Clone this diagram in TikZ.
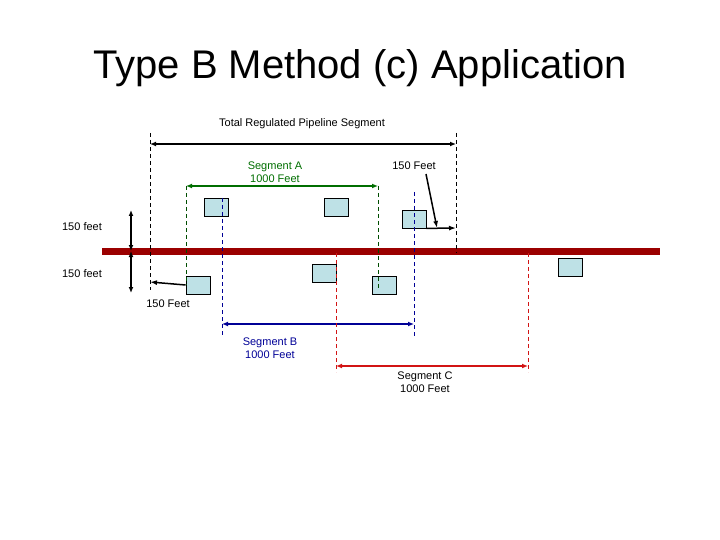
\documentclass[tikz,border=0pt]{standalone}
\usepackage{fontspec}
\setmainfont{Liberation Sans}
\usetikzlibrary{arrows.meta}
\definecolor{pipe}{RGB}{155,0,0}
\definecolor{boxf}{RGB}{190,225,230}
\definecolor{grn}{RGB}{0,110,0}
\definecolor{blu}{RGB}{0,0,150}
\definecolor{rd}{RGB}{210,20,20}
\begin{document}
\begin{tikzpicture}[x=1pt,y=-1pt,
 bx/.style={draw=black,fill=boxf,minimum width=24pt,minimum height=18pt,inner sep=0pt,line width=0.8pt},
 lbl/.style={font=\fontsize{11}{13}\selectfont,align=center,inner sep=0pt},
 dsh/.style={dashed,line width=0.6pt,dash pattern=on 4pt off 3pt},
 dim/.style={line width=1.3pt,{Latex[length=6pt,width=5pt]}-{Latex[length=6pt,width=5pt]}},
 sarr/.style={line width=1.5pt,-{Latex[length=7pt,width=5pt]}}]
\useasboundingbox (0,0) rectangle (720,540);
\node[font=\fontsize{40}{44}\selectfont] (title) at (360,68) {Type B Method (c) Application};
% pipeline
\draw[pipe,line width=7pt] (102,251.5) -- (660,251.5);
% boxes
\node[bx] (b1) at (216,207) {};
\node[bx] (b2) at (336,207) {};
\node[bx] (b3) at (414,219) {};
\node[bx] (b4) at (198,285) {};
\node[bx] (b5) at (324,273) {};
\node[bx] (b6) at (384,285) {};
\node[bx] (b7) at (570,267) {};
% total
\coordinate (t1) at (150,133); \coordinate (t1b) at (150,290);
\coordinate (t2) at (456,133); \coordinate (t2b) at (456,253);
\draw[dsh] (t1) -- (t1b);
\draw[dsh] (t2) -- (t2b);
\draw[dim] (150,144) -- (456,144);
\node[lbl] (tl) at (302,124) {Total Regulated Pipeline Segment};
% segment A
\draw[dsh,grn!70!black] (186,186) -- (186,285);
\draw[dsh,grn!70!black] (378,186) -- (378,290);
\draw[dim,grn] (186,186) -- (378,186);
\node[lbl,text=grn] (la) at (275,172) {Segment A\\1000 Feet};
% segment B
\draw[dsh,blu] (222,198) -- (222,336);
\draw[dsh,blu] (414,192) -- (414,336);
\draw[dim,blu] (222,324) -- (414,324);
\node[lbl,text=blu] (lb) at (270,348) {Segment B\\1000 Feet};
% segment C
\draw[dsh,rd] (336,253) -- (336,372);
\draw[dsh,rd] (528,253) -- (528,372);
\draw[dim,rd] (336,366) -- (528,366);
\node[lbl] (lc) at (425,382) {Segment C\\1000 Feet};
% 150 feet right
\node[lbl] (f1) at (414,166) {150 Feet};
\coordinate (f1e) at (437,228);
\coordinate (r228) at (456,228);
\draw[sarr] (426,174) -- (f1e);
\draw[sarr] (b3.south east) -- (r228);
% left
\node[lbl] (f2) at (82,227) {150 feet};
\node[lbl] (f3) at (82,274) {150 feet};
\draw[dim] (131,210) -- (131,251);
\draw[dim] (131,251) -- (131,293);
\coordinate (l282) at (150,282);
\draw[sarr] (b4.west) -- (l282);
\node[lbl] (f4) at (168,304) {150 Feet};
\end{tikzpicture}
\end{document}
